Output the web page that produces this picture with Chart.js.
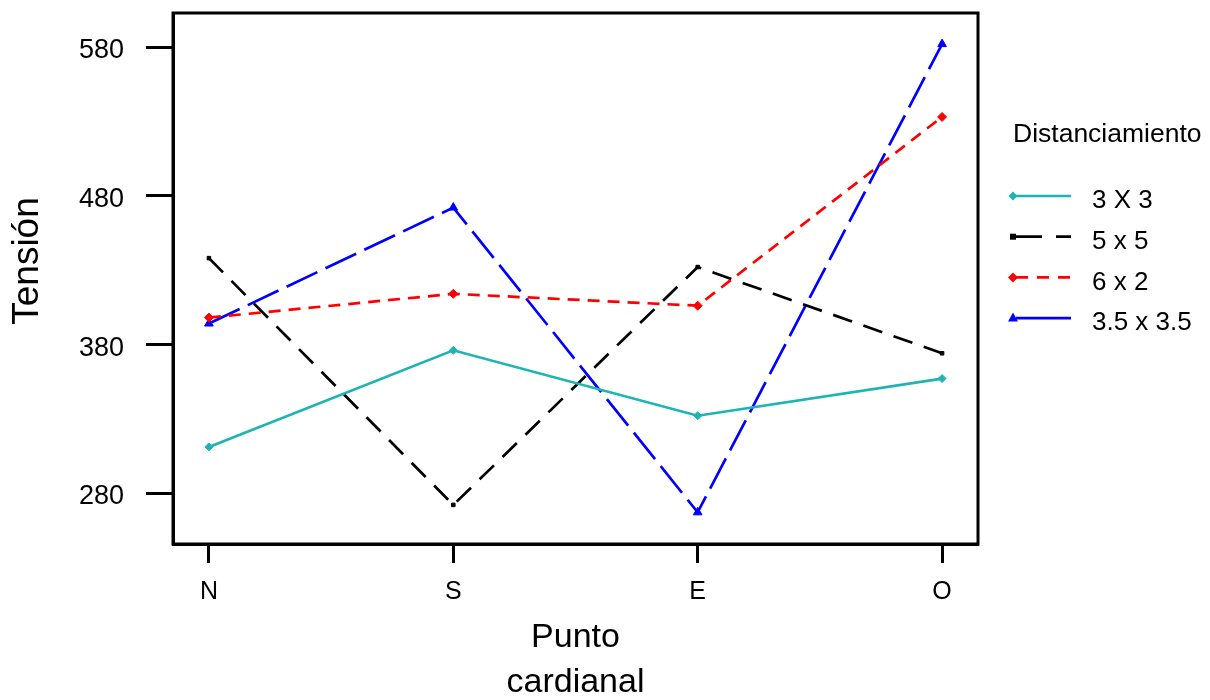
<!DOCTYPE html>
<html>
<head>
<meta charset="utf-8">
<script src="https://cdn.jsdelivr.net/npm/chart.js@4"></script>
<style>
    html, body { margin: 0; padding: 0; background: #fff; }
    #wrap { width: 1210px; height: 700px; }
</style>
</head>
<body>
<div id="wrap"><canvas id="tension"></canvas></div>
<script>
const puntos = ["N", "S", "E", "O"];
const serie3x3 = [311, 376, 332, 357];
const serie5x5 = [438, 272, 432, 374];
const serie6x2 = [398, 414, 406, 533];
const serie35x35 = [394, 472, 267, 582];
const yTicks = [280, 380, 480, 580];
const nombres = ["3 X 3", "5 x 5", "6 x 2", "3.5 x 3.5"];

Chart.defaults.font.family = '"Liberation Sans", Arial, sans-serif';
Chart.defaults.color = "#000";

const colors = {
    teal: "#1db4b4",
    black: "#000000",
    red: "#ff0000",
    blue: "#0000ff",
};

function toPoints(values) {
    return values.map((v, i) => ({ x: i, y: v }));
}

function makeDataset(label, color, values, dash, legendDash, style, radius) {
    return {
        label: label,
        data: toPoints(values),
        borderColor: color,
        backgroundColor: color,
        borderWidth: 2.7,
        borderDash: dash,
        legendDash: legendDash,
        pointStyle: style,
        pointRadius: radius,
        pointBorderWidth: 1,
        tension: 0,
    };
}

// markers for the legend, drawn by hand
function drawMarker(ctx, style, x, y, r) {
    ctx.beginPath();
    if (style === "rectRot") {
        ctx.moveTo(x, y - r);
        ctx.lineTo(x + r, y);
        ctx.lineTo(x, y + r);
        ctx.lineTo(x - r, y);
    } else if (style === "triangle") {
        ctx.moveTo(x, y - r);
        ctx.lineTo(x + r * 0.9, y + r * 0.6);
        ctx.lineTo(x - r * 0.9, y + r * 0.6);
    } else {
        ctx.rect(x - r, y - r, r * 2, r * 2);
    }
    ctx.closePath();
    ctx.fill();
}

function noPadding(s) {
    s.paddingTop = 0;
    s.paddingBottom = 0;
    s.paddingLeft = 0;
    s.paddingRight = 0;
}

const marco = {
    id: "marco",
    afterDraw(chart) {
        const a = chart.chartArea;
        const ctx = chart.ctx;
        ctx.save();
        ctx.strokeStyle = "#000";
        ctx.lineWidth = 3;
        ctx.strokeRect(a.left, a.top, a.right - a.left, a.bottom - a.top);
        // y axis title, a bit above the middle as in the original
        ctx.fillStyle = "#000";
        ctx.font = '37px "Liberation Sans", Arial, sans-serif';
        ctx.textAlign = "center";
        ctx.textBaseline = "middle";
        ctx.translate(28, 261);
        ctx.rotate(-Math.PI / 2);
        ctx.fillText("Tensión", 0, 0);
        ctx.restore();
    },
};

const leyenda = {
    id: "leyenda",
    afterDraw(chart) {
        const ctx = chart.ctx;
        ctx.save();
        ctx.fillStyle = "#000";
        ctx.textBaseline = "middle";
        ctx.font = '26.5px "Liberation Sans", Arial, sans-serif';
        ctx.fillText("Distanciamiento", 1013, 135);
        chart.data.datasets.forEach((ds, i) => {
            const y = 196 + i * 40.7;
            ctx.strokeStyle = ds.borderColor;
            ctx.fillStyle = ds.borderColor;
            ctx.lineWidth = 2.7;
            ctx.setLineDash(ds.legendDash);
            ctx.beginPath();
            ctx.moveTo(1016, y);
            ctx.lineTo(1071, y);
            ctx.stroke();
            ctx.setLineDash([]);
            drawMarker(ctx, ds.pointStyle, 1013, y, ds.pointRadius + 0.5);
            ctx.fillStyle = "#000";
            ctx.font = '26px "Liberation Sans", Arial, sans-serif';
            ctx.fillText(ds.label, 1092, y + 5);
        });
        ctx.restore();
    },
};

new Chart(document.getElementById("tension"), {
    type: "line",
    data: {
        datasets: [
            makeDataset(nombres[0], colors.teal, serie3x3, [], [], "rectRot", 4),
            makeDataset(nombres[1], colors.black, serie5x5, [20, 12], [26, 14], "rect", 2.5),
            makeDataset(nombres[2], colors.red, serie6x2, [12, 8], [12, 9], "rectRot", 4.5),
            makeDataset(nombres[3], colors.blue, serie35x35, [34, 9], [], "triangle", 5),
        ],
    },
    options: {
        responsive: true,
        maintainAspectRatio: false,
        animation: false,
        devicePixelRatio: 1,
        layout: {
            padding: { top: 13, right: 232, bottom: 0, left: 0 },
        },
        plugins: {
            legend: { display: false },
            tooltip: { enabled: false },
        },
        scales: {
            x: {
                type: "linear",
                min: -0.147,
                max: 3.147,
                afterBuildTicks: (s) => { s.ticks = puntos.map((_, i) => ({ value: i })); },
                afterFit: (s) => { s.height = 156; noPadding(s); },
                ticks: {
                    callback: (v) => puntos[v],
                    font: { size: 25 },
                    padding: 14,
                    maxRotation: 0,
                    autoSkip: false,
                },
                grid: {
                    drawOnChartArea: false,
                    tickLength: 19,
                    tickWidth: 3,
                    color: "#000",
                },
                border: { display: true, width: 3, color: "#000" },
                title: {
                    display: true,
                    text: ["Punto", "cardianal"],
                    font: { size: 34, lineHeight: 1.35 },
                    padding: { top: 0, bottom: -6 },
                },
            },
            y: {
                type: "linear",
                min: 245.7,
                max: 602.9,
                afterBuildTicks: (s) => { s.ticks = yTicks.map((v) => ({ value: v })); },
                afterFit: (s) => { s.width = 173; noPadding(s); },
                ticks: {
                    font: { size: 27 },
                    padding: 22,
                    labelOffset: 4,
                },
                grid: {
                    drawOnChartArea: false,
                    tickLength: 27,
                    tickWidth: 3,
                    color: "#000",
                },
                border: { display: true, width: 3, color: "#000" },
                title: { display: false },
            },
        },
    },
    plugins: [marco, leyenda],
});
</script>
</body>
</html>
